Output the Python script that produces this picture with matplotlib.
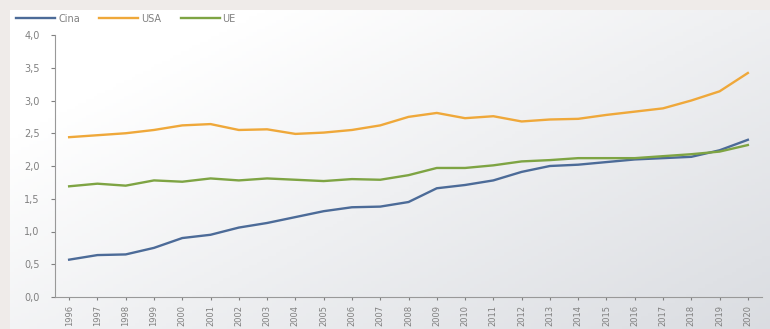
import numpy as np
import matplotlib.pyplot as plt
from matplotlib.ticker import FuncFormatter

anni = list(range(1996, 2021))
cina = [0.57, 0.64, 0.65, 0.75, 0.90, 0.95, 1.06, 1.13, 1.22, 1.31, 1.37, 1.38, 1.45,
        1.66, 1.71, 1.78, 1.91, 2.00, 2.02, 2.06, 2.10, 2.12, 2.14, 2.24, 2.40]
usa = [2.44, 2.47, 2.50, 2.55, 2.62, 2.64, 2.55, 2.56, 2.49, 2.51, 2.55, 2.62, 2.75,
       2.81, 2.73, 2.76, 2.68, 2.71, 2.72, 2.78, 2.83, 2.88, 3.00, 3.14, 3.42]
ue = [1.69, 1.73, 1.70, 1.78, 1.76, 1.81, 1.78, 1.81, 1.79, 1.77, 1.80, 1.79, 1.86,
      1.97, 1.97, 2.01, 2.07, 2.09, 2.12, 2.12, 2.12, 2.15, 2.18, 2.22, 2.32]

fig = plt.figure(figsize=(7.7, 3.29), dpi=100, facecolor='#efebe9')

# gradient background panel: white top-left, light blue-grey bottom-right
bg = fig.add_axes([10/770, 0, 1 - 10/770, 1 - 10/329])
bg.axis('off')
xx, yy = np.meshgrid(np.linspace(0, 1, 200), np.linspace(0, 1, 100))
t = np.clip(0.6 * xx + 0.5 * yy - 0.2, 0, 1)
c0 = np.array([1.0, 1.0, 1.0])
c1 = np.array([0.84, 0.85, 0.87])
img = c0 + (c1 - c0) * t[..., None]
bg.imshow(img, aspect='auto', origin='upper', extent=[0, 1, 0, 1])
bg.set_xlim(0, 1)
bg.set_ylim(0, 1)

ax = fig.add_axes([55/770, 32/329, 707/770, 262/329])
ax.patch.set_alpha(0)
ax.plot(anni, cina, color='#4c6b98', lw=1.7, label='Cina')
ax.plot(anni, usa, color='#efa83a', lw=1.7, label='USA')
ax.plot(anni, ue, color='#7ea443', lw=1.7, label='UE')

ax.set_xlim(1995.5, 2020.5)
ax.set_ylim(0, 4)
ax.set_yticks(np.arange(0, 4.01, 0.5))
ax.yaxis.set_major_formatter(FuncFormatter(lambda v, p: f'{v:.1f}'.replace('.', ',')))
ax.set_xticks(anni)
ax.set_xticklabels([str(a) for a in anni], rotation=90)
ax.tick_params(axis='x', labelsize=6, colors='#808080', length=2, pad=4)
ax.tick_params(axis='y', labelsize=7, colors='#808080', length=3, pad=8)
for s in ['top', 'right']:
    ax.spines[s].set_visible(False)
for s in ['left', 'bottom']:
    ax.spines[s].set_color('#999999')
    ax.spines[s].set_linewidth(0.8)

leg = fig.legend(loc='upper left', bbox_to_anchor=(0.01, 0.985), ncol=3, frameon=False,
                 fontsize=7, handlelength=4, columnspacing=2, handletextpad=0.3)
for txt in leg.get_texts():
    txt.set_color('#808080')

fig.savefig('out.png', dpi=100, facecolor=fig.get_facecolor())
